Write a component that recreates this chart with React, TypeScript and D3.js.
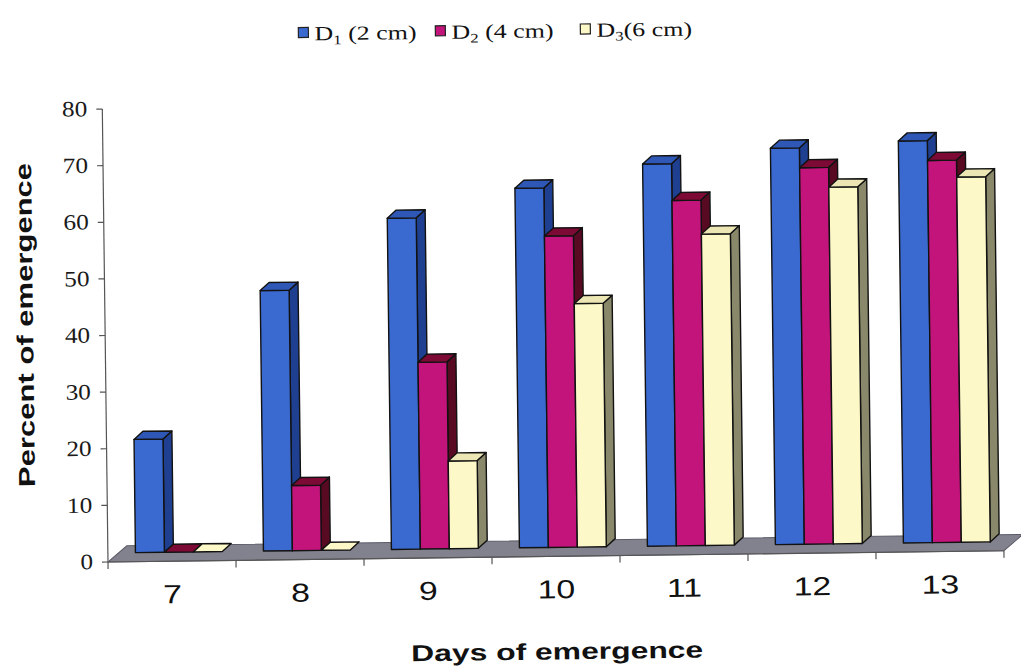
import React from "react";
import * as d3 from "d3";

// Emergence (%) by day after sowing, for three sowing depths
const days = ["7", "8", "9", "10", "11", "12", "13"];
const depthD1 = [20, 46, 58.5, 63.5, 67.5, 70, 71];
const depthD2 = [0, 11.5, 33, 55, 61, 66.5, 67.5];
const depthD3 = [0, 0, 15.5, 43, 55, 63, 64.5];
const yTicks = [0, 10, 20, 30, 40, 50, 60, 70, 80];
const legendSubs = ["1", "2", "3"];
const legendRest = [" (2 cm)", " (4 cm)", "(6 cm)"];

const W = 1021;
const H = 668;

// front-left corner of the floor (value 0, first category)
const ox = 108;
const oy = 562;
const plotW = 896;
const plotH = 453;

// oblique depth offsets
const floorDx = 19;
const floorDy = -16;
const setX = 7;
const setY = -9;
const barDx = 9;
const barDy = -8;

const palette = [
  { front: "#3a6ad0", top: "#2f58b6", side: "#1f3f90" },
  { front: "#c2147a", top: "#7c0a34", side: "#580a22" },
  { front: "#fdf8c8", top: "#ece6b4", side: "#8a886a" },
];

const series = [depthD1, depthD2, depthD3];

export default function App() {
  const x = d3.scaleBand<string>().domain(days).range([ox, ox + plotW]).padding(0);
  const inner = d3
    .scaleBand<number>()
    .domain([0, 1, 2])
    .range([0, x.bandwidth()])
    .paddingInner(0)
    .paddingOuter(0.71);
  const y = d3.scaleLinear().domain([0, 80]).range([oy, oy - plotH]);
  const w = inner.bandwidth();

  const bars: JSX.Element[] = [];
  days.forEach((day, di) => {
    series.forEach((vals, si) => {
      const v = vals[di];
      const c = palette[si];
      const x0 = (x(day) as number) + (inner(si) as number) + setX;
      const yb = oy + setY;
      const yt = yb - (oy - y(v));
      const top = [
        [x0, yt],
        [x0 + w, yt],
        [x0 + w + barDx, yt + barDy],
        [x0 + barDx, yt + barDy],
      ];
      const side = [
        [x0 + w, yt],
        [x0 + w + barDx, yt + barDy],
        [x0 + w + barDx, yb + barDy],
        [x0 + w, yb],
      ];
      const pts = (p: number[][]) => p.map((q) => q.join(",")).join(" ");
      bars.push(
        <g key={`${day}-${si}`} stroke="#121212" strokeWidth={1.4} strokeLinejoin="round">
          {v > 0 && <polygon points={pts(side)} fill={c.side} />}
          {v > 0 && <rect x={x0} y={yt} width={w} height={yb - yt} fill={c.front} />}
          <polygon points={pts(top)} fill={v > 0 ? c.top : si === 2 ? c.front : c.top} />
        </g>
      );
    });
  });

  const floor = [
    [ox, oy],
    [ox + plotW, oy],
    [ox + plotW + floorDx, oy + floorDy],
    [ox + floorDx, oy + floorDy],
  ]
    .map((q) => q.join(","))
    .join(" ");

  const boundaries = [...days.map((d) => x(d) as number), ox + plotW];

  const legendX = [305, 442, 587];

  return (
    <svg
      width={W}
      height={H}
      viewBox={`0 0 ${W} ${H}`}
      style={{ position: "absolute", left: 0, top: 0, background: "#ffffff" }}
    >
      <g transform={`rotate(-0.72, ${ox}, ${oy})`}>
        {/* legend */}
        <g>
          {legendX.map((lx, i) => (
            <g key={i}>
              <rect x={lx} y={30} width={10} height={10} fill={palette[i].front} stroke="#222" strokeWidth={1.2} />
              <g transform={`translate(${lx + 16}, 43) scale(1.3, 1)`}>
                <text fontFamily="'Liberation Serif', 'Times New Roman', serif" fontSize={20} fill="#111">
                  D
                  <tspan fontSize={13} dy={4}>{legendSubs[i]}</tspan>
                  <tspan dy={-4}>{legendRest[i]}</tspan>
                </text>
              </g>
            </g>
          ))}
        </g>

        {/* floor */}
        <polygon points={floor} fill="#82828f" stroke="#5c5c68" strokeWidth={1} />

        {/* value axis */}
        <line x1={ox} y1={oy} x2={ox} y2={y(80)} stroke="#555" strokeWidth={1.2} />
        {yTicks.map((t) => (
          <g key={t}>
            <line x1={ox - 6} x2={ox} y1={y(t)} y2={y(t)} stroke="#555" strokeWidth={1.2} />
            <g transform={`translate(${ox - 15}, ${y(t) + 7}) scale(1.15, 1)`}>
              <text
                textAnchor="end"
                fontFamily="'Liberation Serif', 'Times New Roman', serif"
                fontSize={22}
                fill="#1a1a1a"
              >
                {t}
              </text>
            </g>
          </g>
        ))}

        {/* category axis */}
        <line x1={ox} y1={oy} x2={ox + plotW} y2={oy} stroke="#555" strokeWidth={1.2} />
        {boundaries.map((bx, i) => (
          <line key={i} x1={bx} x2={bx} y1={oy} y2={oy + 7} stroke="#555" strokeWidth={1.2} />
        ))}
        {days.map((d) => (
          <g key={d} transform={`translate(${(x(d) as number) + x.bandwidth() / 2}, ${oy + 42}) scale(1.3, 1)`}>
            <text textAnchor="middle" fontFamily="'Liberation Sans', Arial, sans-serif" fontSize={26} fill="#111">
              {d}
            </text>
          </g>
        ))}

        {/* bars */}
        {bars}

        {/* axis titles */}
        <text
          x={556}
          y={665}
          textAnchor="middle"
          fontFamily="'Liberation Sans', Arial, sans-serif"
          fontWeight="bold"
          fontSize={23}
          textLength={292}
          lengthAdjust="spacingAndGlyphs"
          fill="#111"
        >
          Days of emergence
        </text>
        <text
          transform="translate(36, 324) rotate(-90)"
          textAnchor="middle"
          fontFamily="'Liberation Sans', Arial, sans-serif"
          fontWeight="bold"
          fontSize={23}
          textLength={324}
          lengthAdjust="spacingAndGlyphs"
          fill="#111"
        >
          Percent of emergence
        </text>
      </g>
    </svg>
  );
}
